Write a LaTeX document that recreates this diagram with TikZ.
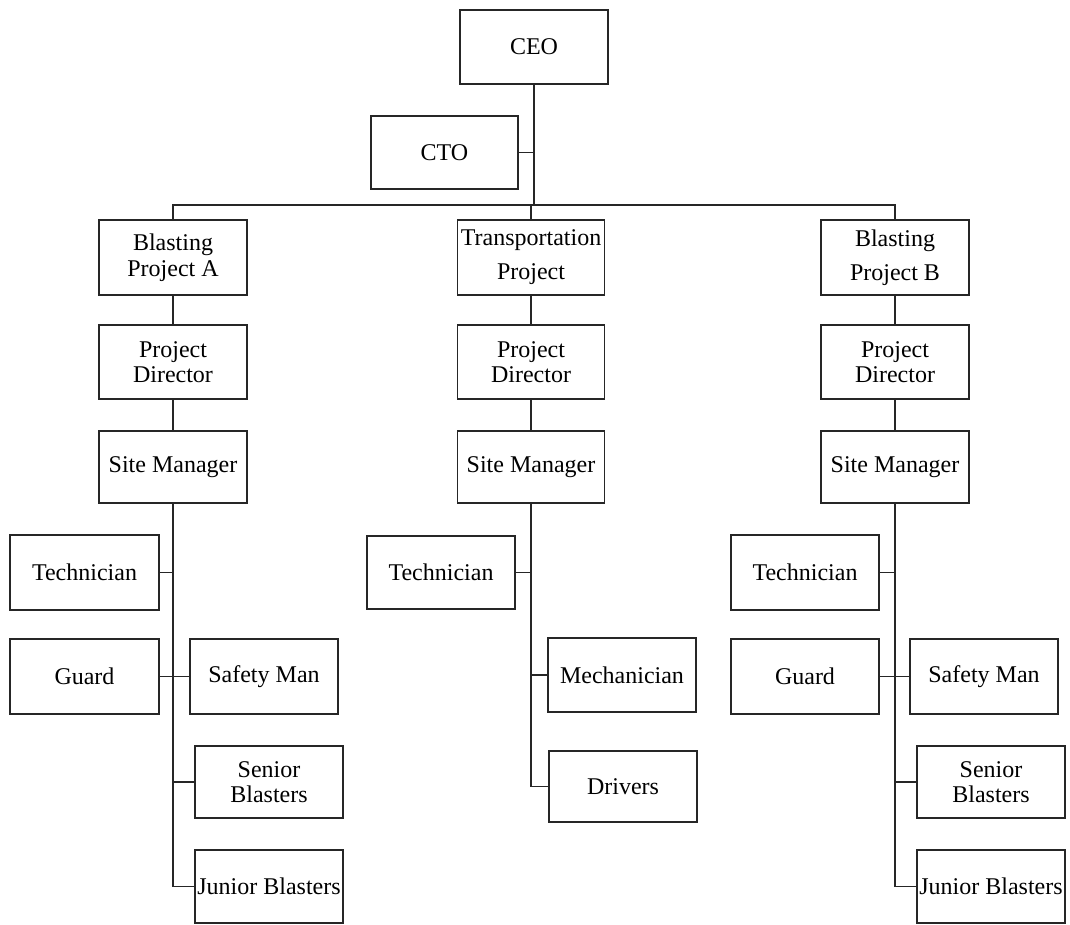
\documentclass[tikz,border=0pt]{standalone}
\usepackage{fontspec}
\setmainfont{Liberation Serif}
\begin{document}
\begin{tikzpicture}[x=1pt,y=-1pt,
  box/.style={draw=black!85, line width=1.6pt, inner sep=0pt, align=center,
    minimum width=148pt, minimum height=74pt,
    font=\fontsize{24pt}{26pt}\selectfont},
  wide/.style={font=\fontsize{24pt}{34pt}\selectfont},
  tight/.style={font=\fontsize{24pt}{25pt}\selectfont},
  conn/.style={draw=black!85, line width=1.6pt}]
\useasboundingbox (0,0) rectangle (1070,924);
% top
\node[box] (ceo) at (534,47) {CEO};
\node[box, minimum width=147pt, minimum height=73pt] (cto) at (444.5,152.5) {CTO};
% projects
\node[box, minimum height=75pt] (bpa) at (173,257.5) {Blasting\\Project A};
\node[box, wide, minimum width=147pt, minimum height=75pt] (tp) at (531,257.5) {Transportation\\Project};
\node[box, wide, minimum height=75pt] (bpb) at (895,257.5) {Blasting\\Project B};
% directors
\node[box, tight] (pda) at (173,362) {Project\\Director};
\node[box, tight, minimum width=147pt] (pdt) at (531,362) {Project\\Director};
\node[box, tight] (pdb) at (895,362) {Project\\Director};
% site managers
\node[box, minimum height=72pt] (sma) at (173,467) {Site Manager};
\node[box, minimum width=147pt, minimum height=72pt] (smt) at (531,467) {Site Manager};
\node[box, minimum height=72pt] (smb) at (895,467) {Site Manager};
% branch A
\node[box, minimum width=149pt, minimum height=75pt] (techa) at (84.5,572.5) {Technician};
\node[box, minimum width=149pt, minimum height=75pt] (guarda) at (84.5,676.5) {Guard};
\node[box, minimum height=75pt] (safea) at (264,676.5) {Safety Man};
\node[box, tight, minimum height=72pt] (sena) at (269,782) {Senior\\Blasters};
\node[box, minimum height=73pt] (juna) at (269,886.5) {Junior Blasters};
% branch T
\node[box, minimum height=73pt] (techt) at (441,572.5) {Technician};
\node[box, minimum height=74pt] (mech) at (622,675) {Mechanician};
\node[box, minimum height=71pt] (drv) at (623,786.5) {Drivers};
% branch B
\node[box, minimum height=75pt] (techb) at (805,572.5) {Technician};
\node[box, minimum height=75pt] (guardb) at (805,676.5) {Guard};
\node[box, minimum height=75pt] (safeb) at (984,676.5) {Safety Man};
\node[box, tight, minimum height=72pt] (senb) at (991,782) {Senior\\Blasters};
\node[box, minimum height=73pt] (junb) at (991,886.5) {Junior Blasters};
% connectors top
\coordinate (bus) at (534,205);
\draw[conn] (ceo.south) -- (bus);
\draw[conn] (cto.east) -- (cto.east -| ceo.south);
\draw[conn] (bpa.north) |- (bus) -| (bpb.north);
\draw[conn] (tp.north) -- (tp.north |- bus);
% chains
\draw[conn] (bpa) -- (pda) -- (sma);
\draw[conn] (tp) -- (pdt) -- (smt);
\draw[conn] (bpb) -- (pdb) -- (smb);
% branch A
\draw[conn] (sma.south) -- (sma.south |- juna.west) -- (juna.west);
\draw[conn] (techa.east) -- (techa.east -| sma.south);
\draw[conn] (guarda.east) -- (safea.west);
\draw[conn] (sena.west) -- (sena.west -| sma.south);
% branch T
\draw[conn] (smt.south) -- (smt.south |- drv.west) -- (drv.west);
\draw[conn] (techt.east) -- (techt.east -| smt.south);
\draw[conn] (mech.west) -- (mech.west -| smt.south);
% branch B
\draw[conn] (smb.south) -- (smb.south |- junb.west) -- (junb.west);
\draw[conn] (techb.east) -- (techb.east -| smb.south);
\draw[conn] (guardb.east) -- (safeb.west);
\draw[conn] (senb.west) -- (senb.west -| smb.south);
\end{tikzpicture}
\end{document}
